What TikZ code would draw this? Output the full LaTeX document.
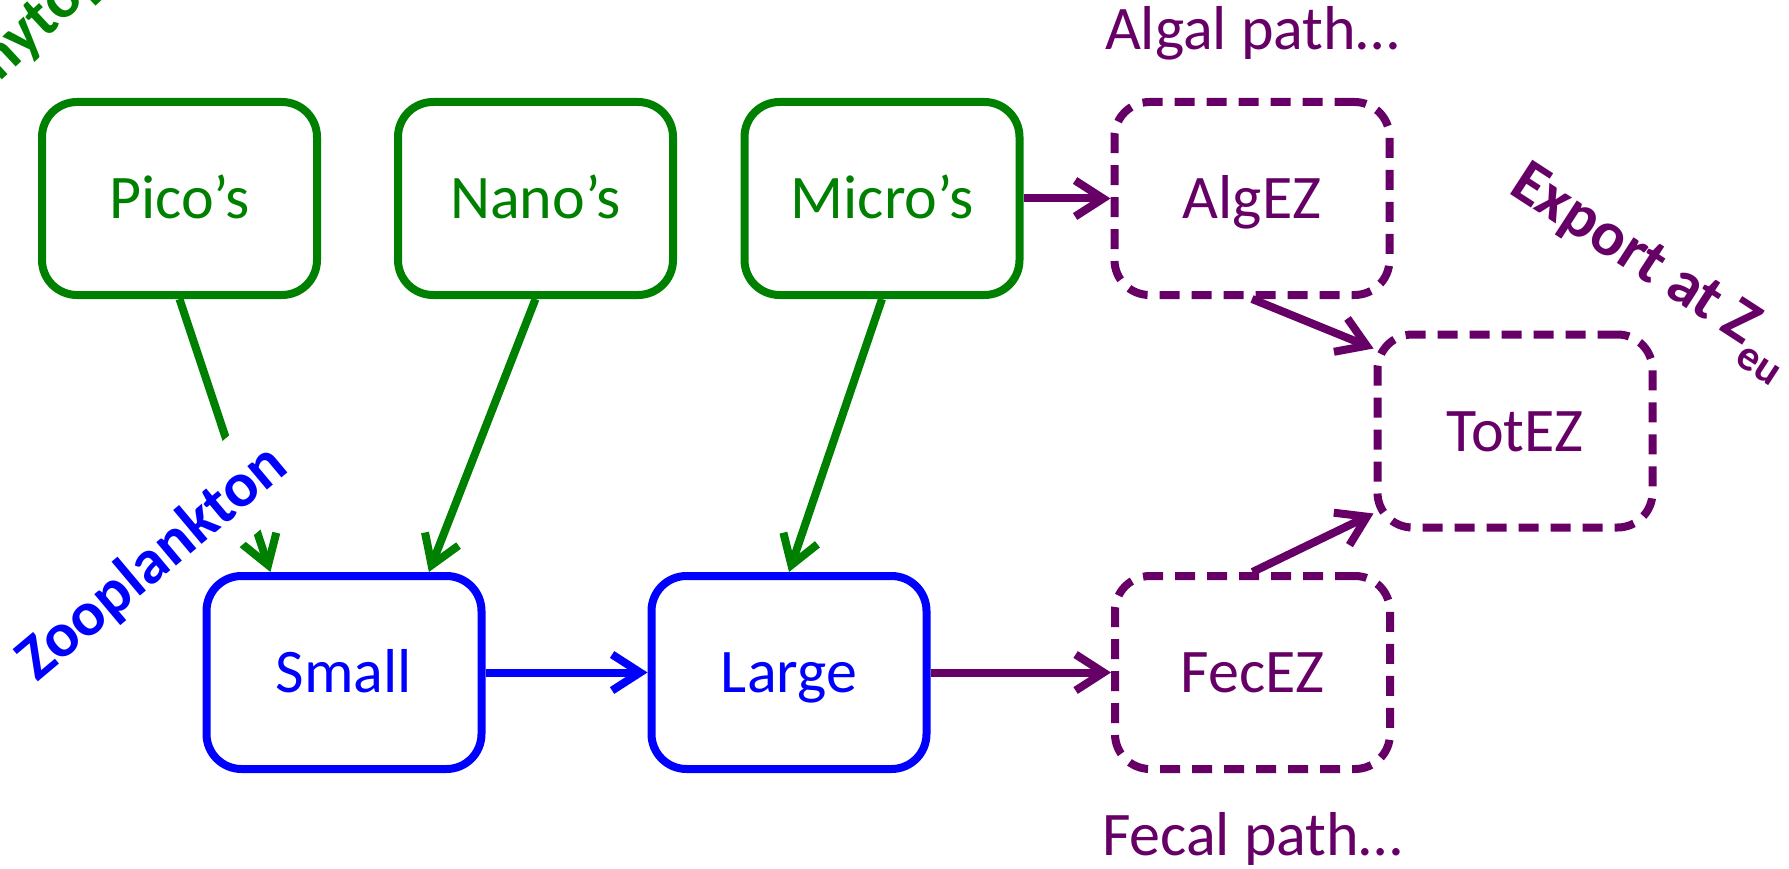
\documentclass[tikz,border=0pt]{standalone}
\usepackage{fontspec}
\setmainfont{Carlito}
\usetikzlibrary{arrows.meta,calc}
\definecolor{phyto}{RGB}{0,128,0}
\definecolor{zoo}{RGB}{0,0,255}
\definecolor{expo}{RGB}{102,0,102}
\tikzset{
  box/.style={draw, line width=8pt, rounded corners=35pt,
    minimum width=275pt, minimum height=193pt, inner sep=0pt,
    text height=40pt, text depth=0pt, font=\fontsize{62}{74}\selectfont},
  phytobox/.style={box, draw=phyto, text=phyto},
  zoobox/.style={box, draw=zoo, text=zoo},
  ezbox/.style={box, draw=expo, text=expo, dash pattern=on 20pt off 12pt},
  flow/.style={line width=8pt, -{Straight Barb[length=28pt,width=36pt]}},
  grazing/.style={flow, draw=phyto},
  zooflow/.style={flow, draw=zoo},
  expflow/.style={flow, draw=expo},
  tag/.style={inner sep=0pt, font=\bfseries\fontsize{63}{75}\selectfont},
  pathnote/.style={inner sep=0pt, anchor=base, text=expo, font=\fontsize{62}{74}\selectfont}
}
\begin{document}
\begin{tikzpicture}[x=1pt, y=-1pt]
\useasboundingbox (0,0) rectangle (1789,869);

% phytoplankton size classes
\node[phytobox] (pico)  at (179.5,198.5) {Pico’s};
\node[phytobox] (nano)  at (535.5,198.5) {Nano’s};
\node[phytobox] (micro) at (882,198.5)   {Micro’s};

% zooplankton size classes
\node[zoobox] (small) at (344,672.5) {Small};
\node[zoobox] (large) at (789,672.5) {Large};

% export pools
\node[ezbox] (algez) at (1252,198.5) {AlgEZ};
\node[ezbox] (fecez) at (1252.5,672.5) {FecEZ};
\node[ezbox] (totez) at (1515,431) {TotEZ};

% grazing
\draw[grazing] (pico.south) -- ($(small.north west)!0.24!(small.north east)$);
\draw[grazing] (nano.south) -- ($(small.north west)!0.80!(small.north east)$);
\draw[grazing] (micro.south) -- (large.north);
\draw[zooflow] (small.east) -- (large.west);

% export paths
\draw[expflow] (micro.east) -- (algez.west);
\draw[expflow] (large.east) -- (fecez.west);
\draw[expflow] (algez.south) -- ($(totez.north west)+(0,18)$);
\draw[expflow] (fecez.north) -- ($(totez.south west)+(0,-18)$);

% group labels
\node[tag, text=phyto, rotate=43, anchor=base west] (phytotag) at (-25,105) {Phytoplankton};
\node[tag, text=zoo, fill=white, rotate=40, anchor=base west,
      text height=58pt, text depth=18pt, inner sep=8pt] (zootag) at (31,688) {Zooplankton};
\node[tag, text=expo, rotate=-33, anchor=base west] (exptag) at (1507,192)
  {Export at Z{\fontsize{43}{43}\selectfont\raisebox{-20pt}{eu}}};

\node[pathnote] (algnote) at (1252,50) {Algal path…};
\node[pathnote] (fecnote) at (1252,855) {Fecal path…};
\end{tikzpicture}
\end{document}
